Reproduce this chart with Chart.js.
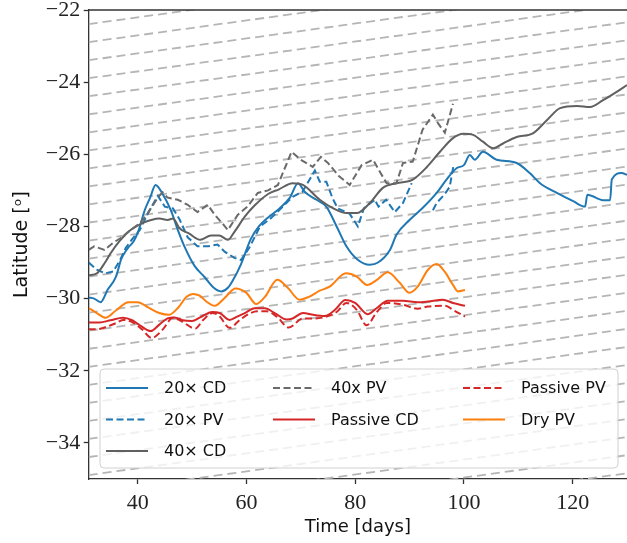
<!DOCTYPE html>
<html>
<head>
<meta charset="utf-8">
<script src="https://cdn.jsdelivr.net/npm/chart.js@4.4.1/dist/chart.umd.min.js"></script>
<style>
  body { margin: 0; background: #fff; }
</style>
</head>
<body>
<canvas id="grafico-latitude" width="627" height="543"></canvas>
<script>
// eixos
const ticksX = [40, 60, 80, 100, 120];
const ticksY = [-34, -32, -30, -28, -26, -24, -22];

// 20x CD
const diasCD20 = [31, 32, 33.2, 34.5, 36, 37, 38.2, 39.3, 40.2, 41.3, 42.3, 43.3, 44.6, 46.1, 47.4, 48.6, 50.5, 52.3, 54, 55.4, 56.6, 57.5, 59, 60.8, 62.3, 64, 66.1, 68, 69.5, 70.7, 72.9, 74.7, 76.6, 78.4, 80.3, 82.7, 84.2, 86.4, 87.6, 90, 92.4, 95, 96.8, 98.7, 100, 101.1, 102, 103.5, 106, 109.7, 112.1, 114, 117.1, 120.1, 122.3, 122.7, 125.6, 126.9, 127.2, 129, 130];
const latCD20 = [-29.97, -30.0, -30.1, -29.75, -29.4, -28.9, -28.6, -28.4, -28.1, -27.55, -27.2, -26.85, -27.1, -27.55, -28.1, -28.55, -29.1, -29.4, -29.7, -29.8, -29.7, -29.5, -29.05, -28.35, -28.0, -27.75, -27.5, -27.2, -26.8, -27.04, -27.26, -27.45, -28.0, -28.55, -28.9, -29.06, -29.0, -28.65, -28.23, -27.82, -27.49, -27.07, -26.7, -26.38, -26.3, -26.02, -26.15, -25.93, -26.15, -26.24, -26.52, -26.8, -27.07, -27.3, -27.45, -27.12, -27.27, -27.27, -26.7, -26.52, -26.57];

// 20x PV (null = trecho sem dado)
const diasPV20 = [31, 32.5, 34, 35.5, 36.7, 37.8, 39, 40.4, 42, 43.7, 45, 46.5, 47.7, 49.2, 51, 53, 54.7, 56, 57.8, 59, 60.5, 62.5, 64.3, 66.1, 68.5, 70.3, 72.6, 73.5, 74.7, 75.8, 76.8, 79, 80.5, 81.6, 83.6, 84.3, 85.7, 87.3, 88.8, 90.4, 92, 94.3, 95, 96.5, 97.4, 98.1];
const latPV20 = [-29.0, -29.2, -29.3, -29.25, -28.95, -28.6, -28.35, -28.1, -27.6, -27.15, -27.45, -27.5, -27.8, -28.3, -28.55, -28.55, -28.5, -28.7, -28.87, -28.93, -28.6, -28.0, -27.8, -27.54, -27.18, -27.04, -26.45, -26.76, -26.76, -27.2, -27.5, -27.65, -28.0, -27.5, -27.26, -27.45, -27.26, -27.6, -27.35, -26.8, null, -27.55, -27.35, -27.1, -26.9, -26.3];

// 40x CD
const diasCD40 = [31, 32.5, 34, 35, 36.7, 38.7, 41, 42.5, 44, 45.5, 46.5, 47.7, 49.5, 51.5, 53.5, 55, 56.6, 57.8, 59.7, 61.5, 64, 66, 68.5, 70.4, 73.5, 75.9, 78.4, 80.3, 82.7, 85.1, 87.6, 90.6, 93.2, 95.6, 98, 99.9, 101.7, 103.5, 105.4, 107.2, 109.7, 112.7, 115.3, 117.7, 120.8, 123.2, 125.6, 128.1, 130];
const latCD40 = [-29.35, -29.3, -29.0, -28.75, -28.4, -28.1, -27.9, -27.82, -27.78, -27.82, -27.78, -28.05, -28.2, -28.37, -28.25, -28.25, -28.37, -28.15, -27.73, -27.42, -27.1, -26.97, -26.8, -26.85, -27.26, -27.49, -27.63, -27.63, -27.35, -26.93, -26.8, -26.7, -26.35, -25.93, -25.55, -25.43, -25.46, -25.65, -25.83, -25.7, -25.52, -25.42, -25.05, -24.72, -24.66, -24.69, -24.5, -24.27, -24.08];

// 40x PV
const diasPV40 = [31, 32, 33.9, 35.5, 36.9, 38.7, 40.5, 41.9, 43.7, 44.6, 45.5, 47.4, 49.2, 51, 52.9, 54.2, 55.5, 56.6, 58.4, 60.2, 62.1, 64, 65.8, 68.3, 70, 72.2, 73.7, 75, 77, 79, 81.2, 83.3, 84.6, 85.8, 87.6, 88.8, 90.6, 92.4, 94.3, 95.3, 96.5, 98];
const latPV40 = [-28.65, -28.55, -28.65, -28.45, -28.32, -28.1, -27.9, -27.63, -27.2, -27.05, -27.2, -27.26, -27.4, -27.6, -27.4, -27.68, -27.9, -28.1, -27.68, -27.45, -27.07, -27.0, -26.85, -25.93, -26.15, -26.35, -26.07, -26.24, -26.6, -26.85, -26.3, -26.15, -26.5, -26.8, -26.8, -26.24, -26.2, -25.32, -24.9, -25.15, -25.4, -24.6];

// Passive CD
const diasPassCD = [31, 33, 35, 37.3, 39, 40.5, 42.4, 44, 45.5, 46.8, 48.3, 50, 51.5, 53.7, 55.1, 56.9, 58.3, 59.7, 61.5, 63.4, 65.2, 67.4, 68.5, 70.4, 72.3, 74.4, 76.3, 78.2, 80, 82.3, 84, 86, 88.8, 91.5, 93.4, 96.1, 98, 100.2];
const latPassCD = [-30.66, -30.66, -30.6, -30.53, -30.6, -30.75, -30.9, -30.72, -30.55, -30.52, -30.6, -30.62, -30.52, -30.37, -30.4, -30.59, -30.5, -30.4, -30.27, -30.27, -30.4, -30.58, -30.55, -30.4, -30.45, -30.48, -30.31, -30.04, -30.12, -30.43, -30.26, -30.06, -30.06, -30.1, -30.08, -30.03, -30.12, -30.2];

// Passive PV
const diasPassPV = [31, 32.5, 34.3, 36, 37.3, 39, 40.8, 42.6, 44.6, 46.5, 48, 50.6, 52, 53.8, 55, 56.9, 58.8, 60.5, 62, 63.7, 65.6, 67.8, 70.4, 72.3, 74.2, 76.6, 78.4, 80.3, 82.1, 84, 85.8, 88.8, 91.5, 93.4, 96.5, 98.3, 100.2];
const latPassPV = [-30.85, -30.85, -30.78, -30.68, -30.59, -30.65, -30.85, -31.09, -30.86, -30.53, -30.62, -30.83, -30.6, -30.4, -30.48, -30.81, -30.59, -30.42, -30.35, -30.35, -30.5, -30.8, -30.55, -30.55, -30.52, -30.37, -30.12, -30.31, -30.74, -30.37, -30.12, -30.17, -30.28, -30.22, -30.2, -30.34, -30.5];

// Dry PV
const diasDry = [31, 32.5, 34.1, 36, 38.3, 40, 42, 44, 45.7, 47.4, 49, 50.2, 51.4, 52.8, 54.2, 56, 58, 60, 61.8, 63.4, 65.7, 67.6, 69.8, 71.5, 73.5, 75.3, 78.3, 80.3, 82.2, 84, 86, 88.2, 90, 91.5, 93.4, 95, 96.5, 98, 98.9, 100.2];
const latDry = [-30.26, -30.4, -30.53, -30.33, -30.1, -30.1, -30.25, -30.4, -30.45, -30.26, -29.95, -29.87, -29.92, -30.1, -30.2, -29.98, -29.72, -29.84, -30.15, -29.95, -29.48, -29.7, -30.03, -29.95, -29.78, -29.67, -29.3, -29.39, -29.62, -29.48, -29.27, -29.56, -29.84, -29.67, -29.2, -29.04, -29.26, -29.62, -29.8, -29.76];

// linhas guia tracejadas do fundo: latitude em x=31 e subida ate x=130
const guiaInicio = [-22.39, -22.89, -23.39, -23.89, -24.39, -24.89, -25.39, -25.89, -26.39, -26.89, -27.39, -27.89, -28.39, -28.89, -29.39, -29.89, -30.39, -30.89, -31.39, -31.89, -32.39, -32.89, -33.39, -33.89, -34.39, -34.89, -35.39, -35.89, -36.39, -36.89, -37.39];
const guiaSubida = 2.05;
const guiaDias = [31, 130];

const legendaColunas = [
  ['20\u00d7 CD', '20\u00d7 PV', '40\u00d7 CD'],
  ['40x PV', 'Passive CD'],
  ['Passive PV', 'Dry PV'],
];

function montaPontos(dias, lats) {
  return dias.map((d, i) => ({ x: d, y: lats[i] }));
}

function retornaDatasets() {
  const tracejado = [7, 3.5];
  const series = [
    { label: '20\u00d7 CD', dias: diasCD20, lats: latCD20, cor: '#1f77b4', dash: [], suave: true },
    { label: '20\u00d7 PV', dias: diasPV20, lats: latPV20, cor: '#1f77b4', dash: tracejado, suave: false },
    { label: '40\u00d7 CD', dias: diasCD40, lats: latCD40, cor: '#606060', dash: [], suave: true },
    { label: '40x PV', dias: diasPV40, lats: latPV40, cor: '#6a6a6a', dash: tracejado, suave: false },
    { label: 'Passive CD', dias: diasPassCD, lats: latPassCD, cor: '#d62728', dash: [], suave: true },
    { label: 'Passive PV', dias: diasPassPV, lats: latPassPV, cor: '#d62728', dash: tracejado, suave: true },
    { label: 'Dry PV', dias: diasDry, lats: latDry, cor: '#ff7f0e', dash: [], suave: true },
  ];

  let datasets = [];

  guiaInicio.forEach((lat) => {
    datasets.push({
      label: '',
      data: montaPontos(guiaDias, [lat, lat + guiaSubida]),
      borderColor: '#b5b5b5',
      borderWidth: 1.8,
      borderDash: [9, 5],
      pointRadius: 0,
      fill: false,
      clip: 0,
      order: 100,
    });
  });

  series.forEach((serie, index) => {
    datasets.push({
      label: serie.label,
      data: montaPontos(serie.dias, serie.lats),
      borderColor: serie.cor,
      backgroundColor: serie.cor,
      borderWidth: 2,
      borderDash: serie.dash,
      pointRadius: 0,
      fill: false,
      spanGaps: false,
      cubicInterpolationMode: serie.suave ? 'monotone' : 'default',
      tension: 0,
      order: series.length - index,
    });
  });

  return datasets;
}

const molduraELegenda = {
  id: 'molduraELegenda',
  afterDatasetsDraw(chart) {
    const { ctx, chartArea } = chart;
    ctx.save();

    // borda de cima
    ctx.strokeStyle = '#333';
    ctx.lineWidth = 1.3;
    ctx.beginPath();
    ctx.moveTo(chartArea.left, chartArea.top);
    ctx.lineTo(chartArea.right, chartArea.top);
    ctx.stroke();

    // caixa da legenda
    const caixa = { x: 100, y: 369, w: 518, h: 99, r: 4 };
    ctx.beginPath();
    ctx.moveTo(caixa.x + caixa.r, caixa.y);
    ctx.arcTo(caixa.x + caixa.w, caixa.y, caixa.x + caixa.w, caixa.y + caixa.h, caixa.r);
    ctx.arcTo(caixa.x + caixa.w, caixa.y + caixa.h, caixa.x, caixa.y + caixa.h, caixa.r);
    ctx.arcTo(caixa.x, caixa.y + caixa.h, caixa.x, caixa.y, caixa.r);
    ctx.arcTo(caixa.x, caixa.y, caixa.x + caixa.w, caixa.y, caixa.r);
    ctx.closePath();
    ctx.fillStyle = 'rgba(255, 255, 255, 0.8)';
    ctx.fill();
    ctx.strokeStyle = '#d0d0d0';
    ctx.lineWidth = 1;
    ctx.stroke();

    const colunasX = [106, 273, 463];
    const linhasY = [388, 419.5, 451];
    ctx.font = '16px "DejaVu Sans"';
    ctx.textBaseline = 'middle';
    ctx.textAlign = 'left';

    legendaColunas.forEach((coluna, c) => {
      coluna.forEach((nome, l) => {
        const ds = chart.data.datasets.find((d) => d.label === nome);
        const x0 = colunasX[c];
        const y0 = linhasY[l];
        ctx.strokeStyle = ds.borderColor;
        ctx.lineWidth = ds.borderWidth;
        ctx.setLineDash(ds.borderDash);
        ctx.beginPath();
        ctx.moveTo(x0, y0);
        ctx.lineTo(x0 + 42, y0);
        ctx.stroke();
        ctx.setLineDash([]);
        ctx.fillStyle = '#111';
        ctx.fillText(nome, x0 + 58, y0 + 1);
      });
    });

    ctx.restore();
  },
};

function carregarGraficoLatitude() {
  const config = {
    type: 'line',
    data: {
      datasets: retornaDatasets(),
    },
    options: {
      responsive: false,
      animation: false,
      devicePixelRatio: 1,
      layout: {
        padding: { top: 10, right: 0, bottom: 0, left: 0 },
      },
      scales: {
        x: {
          type: 'linear',
          min: 31,
          max: 130,
          afterBuildTicks: (escala) => {
            escala.ticks = ticksX.map((v) => ({ value: v }));
          },
          afterFit: (escala) => {
            escala.height = 64;
          },
          ticks: {
            padding: 6,
            color: '#222',
            font: { family: '"Liberation Serif"', size: 22 },
            maxRotation: 0,
          },
          grid: {
            drawOnChartArea: false,
            tickLength: 5,
            tickWidth: 1.3,
            tickColor: '#333',
          },
          border: { display: true, color: '#333', width: 1.3 },
          title: {
            display: true,
            text: 'Time [days]',
            color: '#111',
            font: { family: '"DejaVu Sans"', size: 18 },
            padding: { top: 0, bottom: 5 },
          },
        },
        y: {
          type: 'linear',
          min: -35,
          max: -22,
          afterBuildTicks: (escala) => {
            escala.ticks = ticksY.map((v) => ({ value: v }));
          },
          afterFit: (escala) => {
            escala.width = 88.7;
          },
          ticks: {
            padding: 3.5,
            color: '#222',
            font: { family: '"Liberation Serif"', size: 22, lineHeight: 0.5 },
            callback: (valor) => '\u2212' + Math.abs(valor),
          },
          grid: {
            drawOnChartArea: false,
            tickLength: 5,
            tickWidth: 1.3,
            tickColor: '#333',
          },
          border: { display: true, color: '#333', width: 1.3 },
          title: {
            display: true,
            text: 'Latitude [\u1d52]',
            color: '#111',
            font: { family: '"DejaVu Sans"', size: 19 },
            padding: { top: 11, bottom: 0 },
          },
        },
      },
      plugins: {
        legend: { display: false },
        tooltip: { enabled: false },
      },
    },
    plugins: [molduraELegenda],
  };

  let myChart = new Chart(
    document.getElementById('grafico-latitude').getContext('2d'),
    config
  );
}

carregarGraficoLatitude();
</script>
</body>
</html>
